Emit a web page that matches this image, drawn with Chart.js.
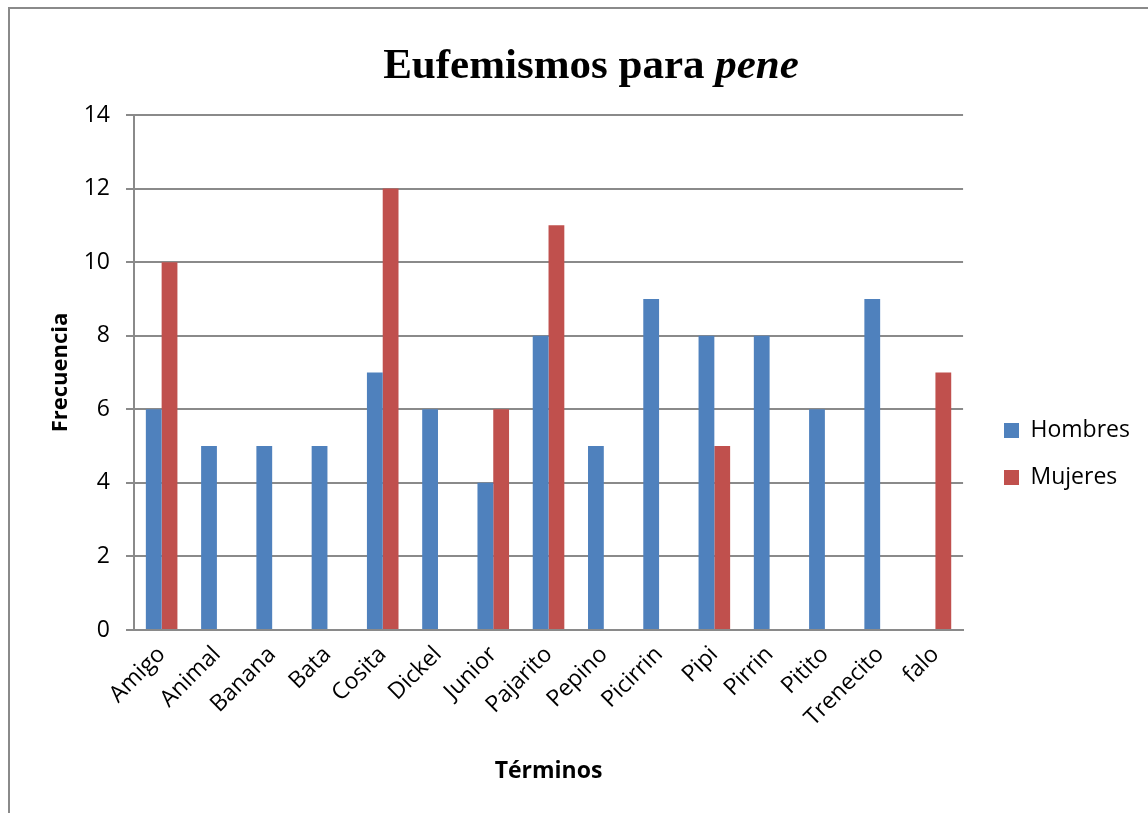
<!DOCTYPE html>
<html>
<head>
<meta charset="utf-8">
<script src="https://cdn.jsdelivr.net/npm/chart.js@4"></script>
<style>
  html, body { margin: 0; padding: 0; background: #fff; overflow: hidden; }
  #wrap { position: relative; width: 1148px; height: 813px; }
  #frame { position: absolute; left: 8px; top: 7px; width: 1300px; height: 900px; border: 2px solid #8a8a8a; box-sizing: border-box; }
  canvas { position: absolute; left: 0; top: 0; }
</style>
</head>
<body>
<div id="wrap">
  <div id="frame"></div>
  <canvas id="c" width="1148" height="813"></canvas>
</div>
<script>
const categories = ["Amigo", "Animal", "Banana", "Bata", "Cosita", "Dickel", "Junior", "Pajarito", "Pepino", "Picirrin", "Pipi", "Pirrin", "Pitito", "Trenecito", "falo"];
const hombres = [6, 5, 5, 5, 7, 6, 4, 8, 5, 9, 8, 8, 6, 9, null];
const mujeres = [10, null, null, null, 12, null, 6, 11, null, null, 5, null, null, null, 7];
const yTicks = [0, 2, 4, 6, 8, 10, 12, 14];
const titleMain = "Eufemismos para ";
const titleItalic = "pene";
const xTitle = "Términos";
const yTitle = "Frecuencia";

const FONT = "'Open Sans', 'Noto Sans', sans-serif";
const GRID = "#8a8a8a";

const titlePlugin = {
  id: "mixedTitle",
  afterDraw(chart) {
    const ctx = chart.ctx;
    ctx.save();
    const f1 = "bold 43px 'Liberation Serif', 'Times New Roman', serif";
    const f2 = "italic bold 43px 'Liberation Serif', 'Times New Roman', serif";
    ctx.font = f1; const w1 = ctx.measureText(titleMain).width;
    ctx.font = f2; const w2 = ctx.measureText(titleItalic).width;
    const cx = 591;
    let x = cx - (w1 + w2) / 2;
    const y = 78;
    ctx.fillStyle = "#000";
    ctx.textBaseline = "alphabetic";
    ctx.textAlign = "left";
    ctx.font = f1; ctx.fillText(titleMain, x, y);
    ctx.font = f2; ctx.fillText(titleItalic, x + w1, y);
    ctx.restore();
  }
};

const legendMover = {
  id: "legendMover",
  afterLayout(chart) {
    const lg = chart.legend;
    if (!lg) return;
    const dx = 980 - lg.left;
    lg.left += dx; lg.right += dx;
  }
};

new Chart(document.getElementById("c"), {
  type: "bar",
  data: {
    labels: categories,
    datasets: [
      { label: "Hombres", data: hombres, backgroundColor: "#4F81BD", borderWidth: 0 },
      { label: "Mujeres", data: mujeres, backgroundColor: "#C0504D", borderWidth: 0 }
    ]
  },
  options: {
    responsive: false,
    animation: false,
    events: [],
    layout: { padding: { left: 30, right: 25, top: 115, bottom: 20 } },
    datasets: { bar: { categoryPercentage: 2 / 3.5, barPercentage: 1.0 } },
    plugins: {
      title: { display: false },
      tooltip: { enabled: false },
      legend: {
        display: true,
        position: "right",
        align: "center",
        labels: {
          boxWidth: 15,
          boxHeight: 15,
          padding: 24,
          color: "#000",
          font: { family: FONT, size: 23 }
        }
      }
    },
    scales: {
      x: {
        grid: { display: false, drawTicks: false },
        border: { display: true, color: GRID, width: 2 },
        ticks: {
          color: "#000",
          font: { family: FONT, size: 23 },
          maxRotation: 45,
          minRotation: 45,
          padding: 11,
          autoSkip: false
        },
        title: { display: true, text: xTitle, color: "#000", font: { family: FONT, size: 23, weight: "bold" }, padding: { top: 0, bottom: 8 } },
        afterFit(scale) { scale.height = 813 - 20 - 630; }
      },
      y: {
        min: 0,
        max: 14,
        afterBuildTicks(scale) { scale.ticks = yTicks.map(v => ({ value: v })); },
        grid: { color: GRID, lineWidth: 2, tickLength: 8, drawTicks: true },
        border: { display: true, color: GRID, width: 2 },
        ticks: { color: "#000", font: { family: FONT, size: 23 }, padding: 16 },
        title: { display: true, text: yTitle, color: "#000", font: { family: FONT, size: 22, weight: "bold" }, padding: { top: 18, bottom: 0 } },
        afterFit(scale) { scale.width = 104; }
      }
    }
  },
  plugins: [titlePlugin, legendMover]
});
</script>
</body>
</html>
